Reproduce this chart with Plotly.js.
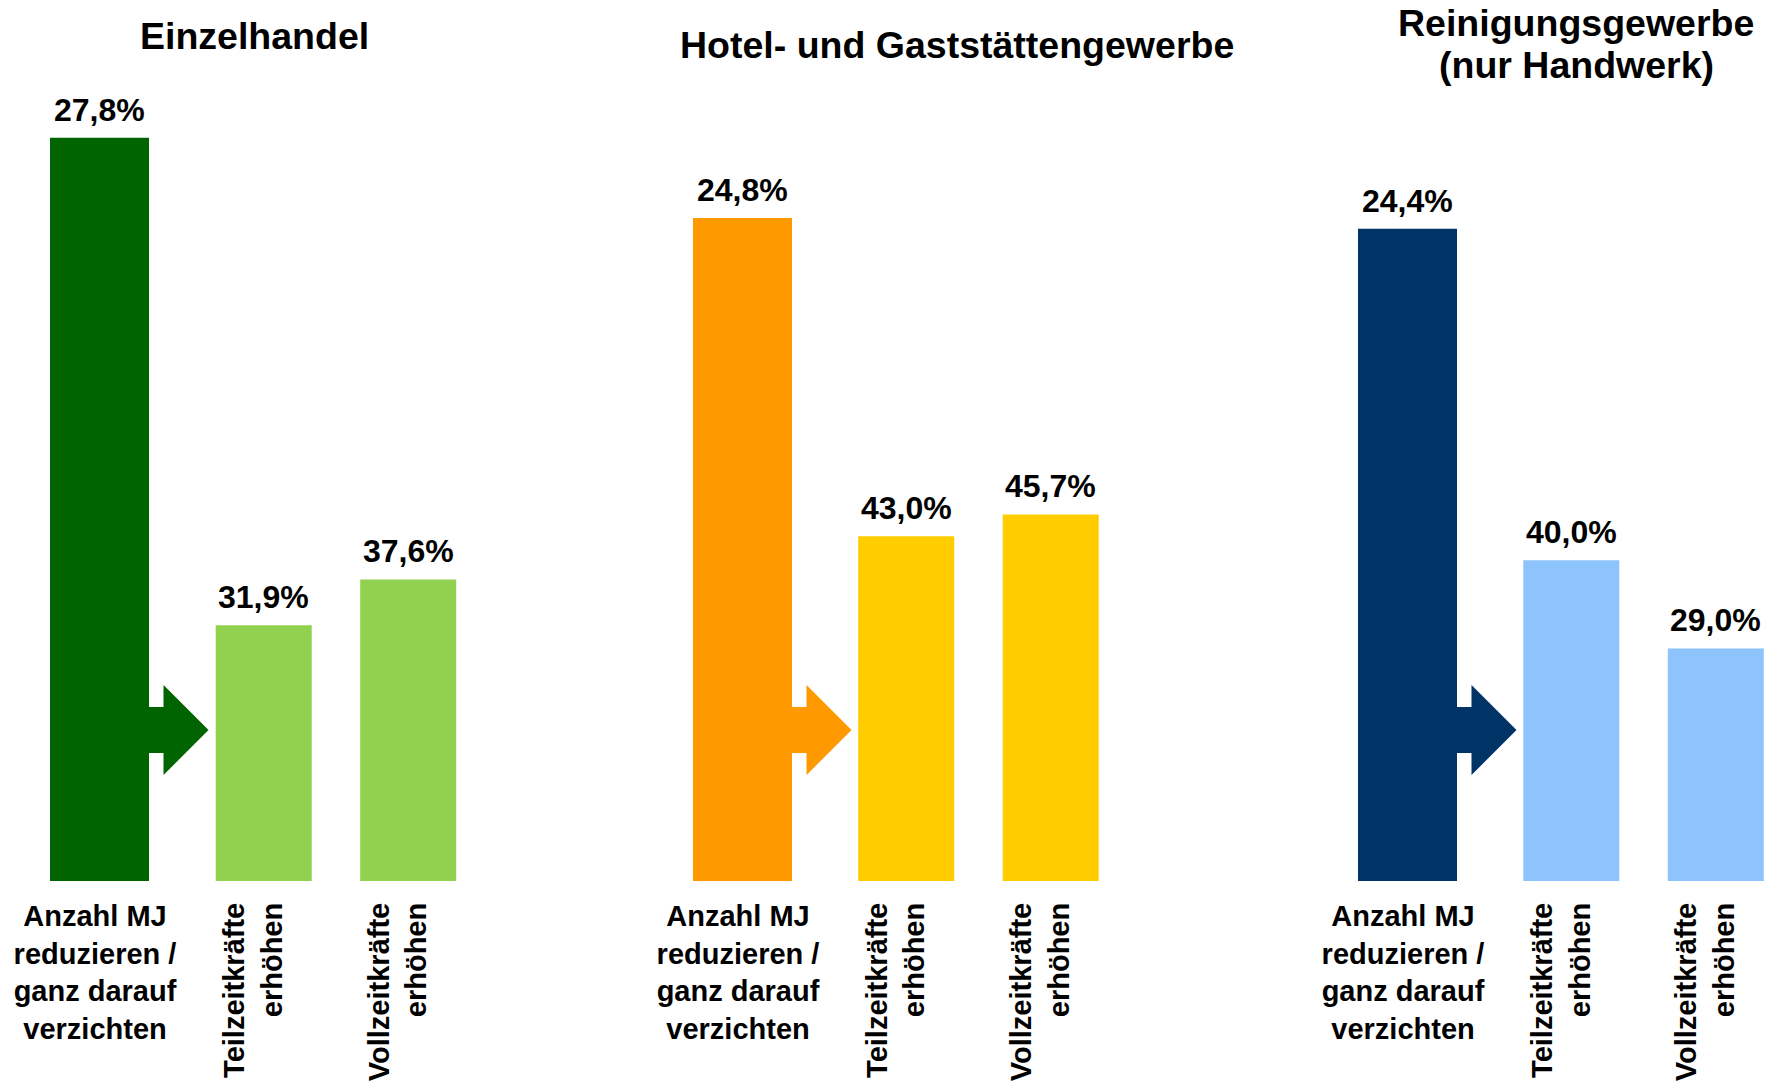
<!DOCTYPE html>
<html>
<head>
<meta charset="utf-8">
<script src="https://cdn.plot.ly/plotly-3.0.1.min.js"></script>
<style>html,body{margin:0;padding:0;background:#fff;}#chart{width:1777px;height:1084px;}</style>
</head>
<body>
<div id="chart"></div>
<script>
// ---- data ----
const panelTitles = ['Einzelhandel', 'Hotel- und Gaststättengewerbe', 'Reinigungsgewerbe<br>(nur Handwerk)'];
const reduceLabel = 'Anzahl MJ<br>reduzieren /<br>ganz darauf<br>verzichten';
const increaseLabels = ['Teilzeitkräfte<br>erhöhen', 'Vollzeitkräfte<br>erhöhen'];
const reduceValues = [27.8, 24.8, 24.4];
const partTimeValues = [31.9, 43.0, 40.0];
const fullTimeValues = [37.6, 45.7, 29.0];
const darkColors = ['#006400', '#FF9900', '#003366'];
const lightColors = ['#92D050', '#FFCC00', '#8EC4FC'];

// ---- layout constants (pixels) ----
const W = 1777, H = 1084;
const u = 144.5;                       // spacing of the two right bars
const aCenters = [99.5, 742.5, 1407.5];
const bFirst = [263.7, 906.2, 1571.3];
const aShift = 4.5, bShift = 10;       // tick label offset relative to bar centre
const titlePos = [[254, 36], [956.6, 45], [1576, 44]];
const titleLineGap = 43;
const baseY = 881, topY = 79;
const yDom = [(H - baseY) / H, (H - topY) / H];
const FONT = 'Liberation Sans, Arial, Helvetica, sans-serif';
const wA = 99 / 120, wB = 96 / u;
const bRangeMax = 1.45;

const fmt = v => v.toFixed(1).replace('.', ',') + '%';

const traces = [];
const layout = {
  width: W, height: H,
  margin: {l: 0, r: 0, t: 0, b: 0},
  paper_bgcolor: '#ffffff', plot_bgcolor: 'rgba(0,0,0,0)',
  showlegend: false,
  font: {family: FONT, color: '#000'},
  annotations: [], shapes: []
};

for (let i = 0; i < 3; i++) {
  const na = 2 * i + 1, nb = 2 * i + 2;
  const xa = 'x' + na, ya = 'y' + na, xb = 'x' + nb, yb = 'y' + nb;
  const key = n => (n === 1 ? '' : n);

  traces.push({
    type: 'bar', x: [reduceLabel], y: [reduceValues[i]],
    xaxis: xa, yaxis: ya, width: wA, offset: -wA / 2 + aShift / 120,
    marker: {color: darkColors[i]}, hoverinfo: 'skip'
  });
  traces.push({
    type: 'bar', x: increaseLabels, y: [partTimeValues[i], fullTimeValues[i]],
    xaxis: xb, yaxis: yb, width: wB, offset: -wB / 2 + bShift / u,
    marker: {color: lightColors[i]}, hoverinfo: 'skip'
  });

  const c = aCenters[i] - aShift, b = bFirst[i] - bShift;
  const tickfont = {family: FONT, size: 29, weight: 700, color: '#000'};
  layout['xaxis' + key(na)] = {
    domain: [(c - 60) / W, (c + 120) / W], range: [-0.5, 1.0], type: 'category',
    anchor: ya, showgrid: false, zeroline: false, showline: false, ticks: '',
    tickangle: 0, ticklabelstandoff: 15, tickfont: tickfont, fixedrange: true
  };
  layout['yaxis' + key(na)] = {
    domain: yDom, range: [0, 30], anchor: xa, visible: false, fixedrange: true
  };
  layout['xaxis' + key(nb)] = {
    domain: [(b - 0.5 * u) / W, (b + bRangeMax * u) / W], range: [-0.5, bRangeMax], type: 'category',
    anchor: yb, showgrid: false, zeroline: false, showline: false, ticks: '',
    tickangle: -90, ticklabelstandoff: 15, tickfont: tickfont, fixedrange: true
  };
  layout['yaxis' + key(nb)] = {
    domain: yDom, range: [0, 100], anchor: xb, visible: false, fixedrange: true
  };

  // value labels
  const lab = (x, y, xr, yr, sh) => ({
    x: x, y: y, xref: xr, yref: yr, text: fmt(y), showarrow: false,
    yanchor: 'bottom', xanchor: 'center', yshift: 8, xshift: sh,
    font: {family: FONT, size: 32, weight: 700, color: '#000'}
  });
  layout.annotations.push(lab(reduceLabel, reduceValues[i], xa, ya, aShift));
  layout.annotations.push(lab(increaseLabels[0], partTimeValues[i], xb, yb, bShift));
  layout.annotations.push(lab(increaseLabels[1], fullTimeValues[i], xb, yb, bShift));

  // panel title (one annotation per line for tighter line spacing)
  const lines = panelTitles[i].split('<br>');
  lines.forEach((ln, k) => {
    const cy = titlePos[i][1] + (k - (lines.length - 1) / 2) * titleLineGap;
    layout.annotations.push({
      x: titlePos[i][0] / W, y: 1 - cy / H, xref: 'paper', yref: 'paper',
      text: ln, showarrow: false, xanchor: 'center', yanchor: 'middle',
      font: {family: FONT, size: 37.5, weight: 700, color: '#000'}
    });
  });

  // arrow from the reduction bar towards the increase bars
  const d = aShift;
  layout.shapes.push({
    type: 'path', xref: xa, yref: ya, xsizemode: 'pixel', ysizemode: 'pixel',
    xanchor: 0, yanchor: 0,
    path: `M${45 + d},128 L${64 + d},128 L${64 + d},106 L${109 + d},151 L${64 + d},196 L${64 + d},174 L${45 + d},174 Z`,
    fillcolor: darkColors[i], line: {width: 0}
  });
}

Plotly.newPlot('chart', traces, layout, {displayModeBar: false, staticPlot: true});
</script>
</body>
</html>
